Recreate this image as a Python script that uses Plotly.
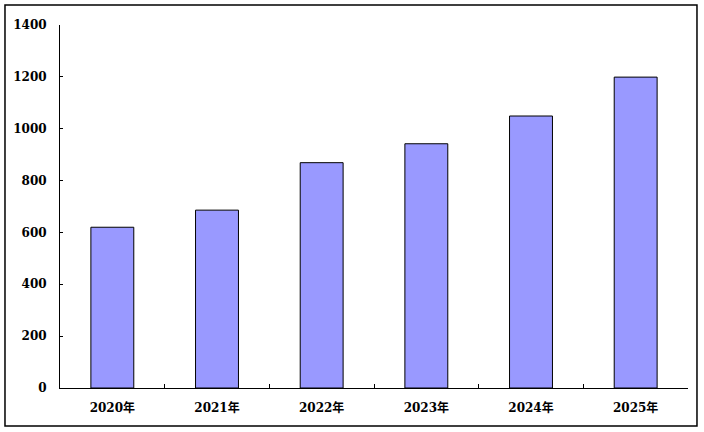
import plotly.graph_objects as go

years = ["2020年", "2021年", "2022年", "2023年", "2024年", "2025年"]
values = [620, 686, 869, 942, 1049, 1199]
y_ticks = [0, 200, 400, 600, 800, 1000, 1200, 1400]

tick_font = dict(family="DejaVu Serif, Noto Sans CJK SC", size=12, color="black", weight="bold")

fig = go.Figure(go.Bar(
    x=years,
    y=values,
    marker=dict(color="#9999FF", line=dict(color="black", width=1)),
    width=0.41,
))

fig.update_layout(
    width=704,
    height=432,
    margin=dict(l=60, r=16, t=25, b=44),
    paper_bgcolor="white",
    plot_bgcolor="white",
    showlegend=False,
    # outer frame round the whole chart
    shapes=[dict(type="rect", xref="paper", yref="paper",
                 x0=-0.0876, x1=1.0143, y0=-0.1047, y1=1.0551,
                 line=dict(color="black", width=1.5))],
)

fig.update_xaxes(
    showline=True, linecolor="black", linewidth=1,
    ticks="inside", ticklen=4, tickcolor="black", tickson="boundaries",
    showgrid=False, tickfont=tick_font, ticklabelstandoff=9,
)
fig.update_yaxes(
    range=[0, 1400], tickvals=y_ticks,
    showline=True, linecolor="black", linewidth=1,
    ticks="inside", ticklen=3, tickcolor="black",
    showgrid=False, zeroline=False, tickfont=tick_font, ticklabelstandoff=10,
)

# the page's default body margin would push the chart 8px in
fig.write_html("out.html", config={"displayModeBar": False},
               post_script="document.body.style.margin='0';")
